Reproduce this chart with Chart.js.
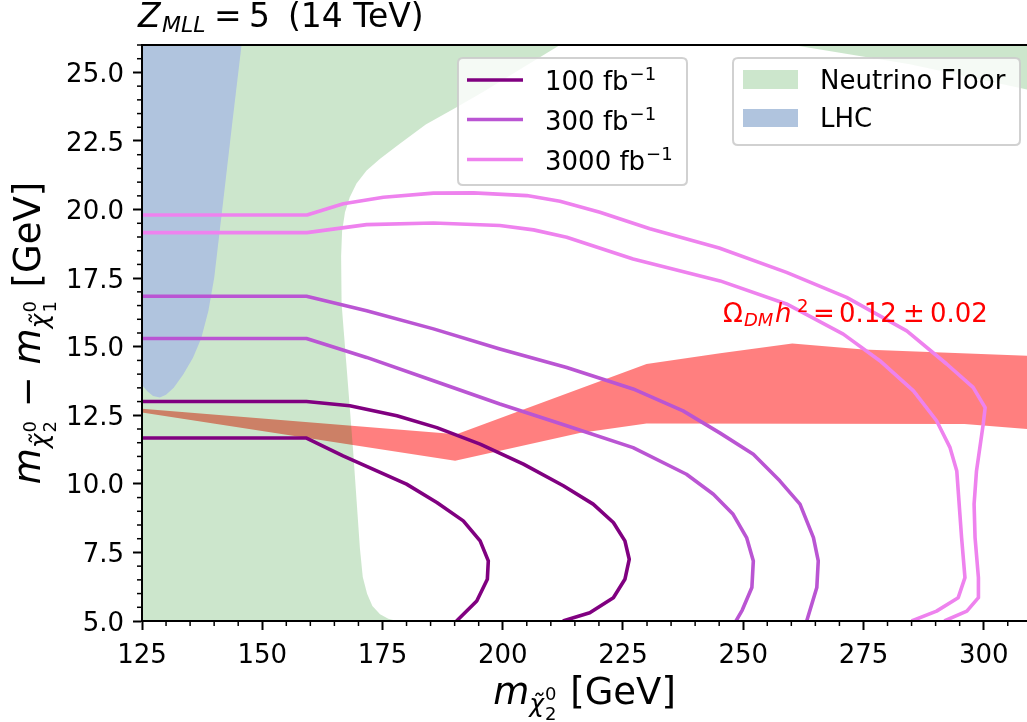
<!DOCTYPE html>
<html><head><meta charset="utf-8">
<script src="https://cdn.jsdelivr.net/npm/chart.js@4.4.1/dist/chart.umd.min.js"></script>
<style>html,body{margin:0;padding:0;background:#fff}canvas{display:block}</style>
</head><body>
<canvas id="c" width="1027" height="722"></canvas>
<script>
// ---- axis ranges and tick labels ----
const X_MIN = 125, X_MAX = 309, Y_MIN = 5, Y_MAX = 26;
const X_TICKS = [125, 150, 175, 200, 225, 250, 275, 300];
const Y_TICKS = [5.0, 7.5, 10.0, 12.5, 15.0, 17.5, 20.0, 22.5, 25.0];

// ---- Z_MLL = 5 contours: [m_chi2, delta m] ----
const lum100Low = [[125,11.67],[159.2,11.67],[166.8,11.02],[180.0,9.99],[186.3,9.32],[191.8,8.65],[195.3,7.92],[197.0,7.19],[196.8,6.52],[194.6,5.73],[190.4,5.0]];
const lum100High = [[125,13.0],[159.2,13.0],[168.2,12.85],[178.0,12.48],[186.3,12.05],[195.3,11.45],[204.3,10.72],[212.6,9.93],[218.8,9.26],[223.0,8.59],[225.4,7.92],[226.3,7.25],[225.4,6.52],[223.0,5.85],[218.1,5.3],[212.5,5.0]];
const lum300Low = [[125,15.3],[159.2,15.3],[171.7,14.61],[185.6,13.76],[199.4,12.91],[213.3,12.12],[227.1,11.32],[238.2,10.35],[243.8,9.62],[247.9,8.89],[250.7,8.04],[252.1,7.19],[251.8,6.22],[249.8,5.4],[248.5,5.0]];
const lum300High = [[125,16.84],[159.2,16.84],[171.7,16.31],[185.6,15.65],[199.4,14.92],[213.3,14.24],[227.1,13.46],[237.5,12.66],[245.2,11.85],[252.1,11.08],[257.6,10.11],[261.8,9.26],[264.6,8.04],[265.6,7.19],[265.3,6.22],[263.2,5.0]];
const lum3000Low = [[125,19.16],[159.3,19.16],[171.7,19.45],[185.6,19.51],[199.4,19.42],[206.4,19.26],[213.3,18.99],[227.1,18.2],[245.2,17.4],[259.0,16.56],[270.8,15.46],[278.4,14.49],[285.4,13.39],[290.2,12.3],[293.0,11.32],[294.4,10.47],[295.4,8.04],[296.1,6.58],[294.7,5.85],[290.2,5.36],[285.0,5.0]];
const lum3000High = [[125,19.8],[159.3,19.8],[166.85,20.21],[175.2,20.45],[185.6,20.6],[193.9,20.61],[205.0,20.51],[211.9,20.3],[220.2,19.9],[230.6,19.3],[245.0,18.6],[259.0,17.71],[271.5,16.8],[284.0,15.58],[292.3,14.37],[297.8,13.52],[300.3,12.78],[299.9,12.18],[298.5,10.47],[298.0,9.26],[298.2,8.04],[298.9,6.58],[298.9,5.85],[296.5,5.36],[291.8,5.0]];

// ---- relic density band ----
const omegaUpper = [[125,12.74],[190.4,11.81],[229.9,14.37],[245.2,14.76],[260.2,15.12],[275.0,14.9],[309,14.67]];
const omegaLower = [[125,12.6],[190.1,10.84],[216.0,11.85],[229.9,12.2],[296.0,12.18],[309,12.0]];

// ---- excluded regions (outlines) ----
const neutrinoFloorLeft = [[125,26],[211.9,26],[196,24.3],[190.4,23.73],[184,23.1],[178.6,22.4],[174.5,21.85],[171.7,21.42],[169.6,20.95],[168.2,20.45],[167.2,19.9],[166.6,19.2],[166.4,18.3],[166.5,16.56],[167.6,14.12],[168.9,11.2],[170.3,7.66],[170.9,6.6],[171.8,5.99],[172.9,5.55],[174.5,5.25],[176.2,5.08],[178.0,5.0],[125,5.0]];
const neutrinoFloorTop = [[260.3,26],[309,26],[309,24.38],[284.6,25.3]];
const lhcRegion = [[125,26],[145.7,26],[143.8,23.2],[141.9,20.33],[140.0,17.5],[138.8,16.3],[137.3,15.3],[135.6,14.6],[133.6,14.0],[131.6,13.5],[130.0,13.25],[128.7,13.15],[127.3,13.2],[126.1,13.38],[125,13.6]];

// ---- legend labels ----
const LINE_LABELS = ['100 fb', '300 fb', '3000 fb'];
const AREA_LABELS = ['Neutrino Floor', 'LHC'];

const C100 = '#800080', C300 = '#ba55d3', C3000 = '#ee82ee';
const GREEN = 'rgba(0,128,0,0.2)', BLUE = '#b0c4de', RED = 'rgba(255,0,0,0.5)';
const FONT = '"DejaVu Sans"';
const LW = 3.6;

const pts = a => a.map(p => ({x: p[0], y: p[1]}));
function lineDs(data, color) {
  return {data: pts(data), showLine: true, borderColor: color, borderWidth: LW, pointRadius: 0,
          fill: false, borderJoinStyle: 'round', order: 0, tension: 0};
}
function areaDs(data, color, order) {
  return {data: pts(data), showLine: true, borderWidth: 0, borderColor: 'rgba(0,0,0,0)',
          backgroundColor: color, pointRadius: 0, fill: 'shape', order: order, tension: 0};
}
const redBand = omegaUpper.concat(omegaLower.slice().reverse());

function textRun(ctx, pieces) {
  let w = 0;
  for (const p of pieces) {
    ctx.font = (p.it ? 'italic ' : '') + p.s + 'px ' + FONT;
    if (!p.na) w += ctx.measureText(p.t).width + (p.gap || 0);
  }
  return w;
}
function drawRun(ctx, pieces, x0, y0) {
  let x = x0;
  for (const p of pieces) {
    ctx.font = (p.it ? 'italic ' : '') + p.s + 'px ' + FONT;
    ctx.fillText(p.t, x + (p.dx || 0), y0 + (p.dy || 0));
    if (!p.na) x += ctx.measureText(p.t).width + (p.gap || 0);
  }
}
function roundBox(ctx, x, y, w, h, r) {
  ctx.beginPath();
  ctx.moveTo(x + r, y); ctx.lineTo(x + w - r, y); ctx.quadraticCurveTo(x + w, y, x + w, y + r);
  ctx.lineTo(x + w, y + h - r); ctx.quadraticCurveTo(x + w, y + h, x + w - r, y + h);
  ctx.lineTo(x + r, y + h); ctx.quadraticCurveTo(x, y + h, x, y + h - r);
  ctx.lineTo(x, y + r); ctx.quadraticCurveTo(x, y, x + r, y); ctx.closePath();
  ctx.fillStyle = 'rgba(255,255,255,0.8)'; ctx.fill();
  ctx.strokeStyle = 'rgba(204,204,204,0.9)'; ctx.lineWidth = 2; ctx.stroke();
}

const decor = {
  id: 'decor',
  afterDraw(chart) {
    const ctx = chart.ctx, a = chart.chartArea, xs = chart.scales.x, ys = chart.scales.y;
    ctx.save();
    // top spine
    ctx.strokeStyle = '#000'; ctx.lineWidth = 2;
    ctx.beginPath(); ctx.moveTo(a.left - 1, a.top); ctx.lineTo(a.right, a.top); ctx.stroke();
    // minor ticks
    ctx.lineWidth = 1.5;
    for (let v = X_MIN; v <= X_MAX; v += 5) {
      if (X_TICKS.includes(v)) continue;
      const px = xs.getPixelForValue(v);
      ctx.beginPath(); ctx.moveTo(px, a.bottom); ctx.lineTo(px, a.bottom + 5); ctx.stroke();
    }
    for (let v = Y_MIN; v <= Y_MAX + 1e-9; v += 0.5) {
      if (Y_TICKS.some(t => Math.abs(t - v) < 1e-9)) continue;
      const py = ys.getPixelForValue(v);
      ctx.beginPath(); ctx.moveTo(a.left, py); ctx.lineTo(a.left - 5, py); ctx.stroke();
    }
    // tick labels
    ctx.fillStyle = '#000'; ctx.font = '26px ' + FONT; ctx.textBaseline = 'alphabetic';
    ctx.textAlign = 'center';
    for (const v of X_TICKS) ctx.fillText(String(v), xs.getPixelForValue(v), 663);
    ctx.textAlign = 'right';
    for (const v of Y_TICKS) ctx.fillText(v.toFixed(1), a.left - 18, ys.getPixelForValue(v) + 9.5);
    ctx.textAlign = 'left';
    // legend 1
    roundBox(ctx, 458, 58, 229, 127, 5);
    const cols = [C100, C300, C3000], ly = [80, 119.5, 159.5], lb = [90, 130, 170];
    for (let i = 0; i < 3; i++) {
      ctx.strokeStyle = cols[i]; ctx.lineWidth = LW;
      ctx.beginPath(); ctx.moveTo(467, ly[i]); ctx.lineTo(523, ly[i]); ctx.stroke();
      ctx.fillStyle = '#000';
      drawRun(ctx, [{t: LINE_LABELS[i], s: 26}, {t: '\u22121', s: 18, dy: -10, dx: 1}], 545, lb[i]);
    }
    // legend 2
    roundBox(ctx, 733, 58, 287, 87, 5);
    ctx.fillStyle = GREEN; ctx.fillRect(743, 70, 55, 19);
    ctx.fillStyle = BLUE; ctx.fillRect(743, 109, 55, 18);
    ctx.fillStyle = '#000'; ctx.font = '26px ' + FONT;
    ctx.fillText(AREA_LABELS[0], 820, 89);
    ctx.fillText(AREA_LABELS[1], 820, 127);
    // title
    ctx.fillStyle = '#000';
    ctx.font = 'italic 33px ' + FONT; ctx.fillText('Z', 138, 27);
    ctx.font = 'italic 22px ' + FONT; ctx.fillText('MLL', 162, 32);
    ctx.font = '33px ' + FONT; ctx.fillText('=', 214, 27); ctx.fillText('5', 249, 27);
    ctx.fillText('(14 TeV)', 288, 27);
    // relic density annotation
    ctx.fillStyle = '#ff0000';
    ctx.font = '26px ' + FONT; ctx.fillText('\u03A9', 723, 322);
    ctx.font = 'italic 18px ' + FONT; ctx.fillText('DM', 744, 325.5);
    ctx.font = 'italic 26px ' + FONT; ctx.fillText('h', 775, 322);
    ctx.font = '18px ' + FONT; ctx.fillText('2', 797, 312);
    ctx.font = '26px ' + FONT;
    ctx.fillText('=', 813, 322); ctx.fillText('0.12', 839, 322);
    ctx.fillText('\u00B1', 903, 322); ctx.fillText('0.02', 930, 322);
    // axis labels
    ctx.fillStyle = '#000';
    const chiSub = n => [{t: '\u03C7\u0303', s: 25, it: 1, dy: 8, gap: 1}, {t: '0', s: 18, dy: -4, na: 1}, {t: n, s: 18, dy: 16, gap: 2}];
    const xl = [{t: 'm', s: 37, it: 1}].concat(chiSub('2'), [{t: ' [GeV]', s: 37}]);
    const xw = textRun(ctx, xl);
    drawRun(ctx, xl, (a.left + a.right) / 2 - xw / 2, 704);
    const yl = [{t: 'm', s: 37, it: 1}].concat(chiSub('2'), [{t: ' \u2212 ', s: 37}, {t: 'm', s: 37, it: 1}], chiSub('1'), [{t: ' [GeV]', s: 37}]);
    const yw = textRun(ctx, yl);
    ctx.translate(40, (a.top + a.bottom) / 2);
    ctx.rotate(-Math.PI / 2);
    drawRun(ctx, yl, -yw / 2, 0);
    ctx.restore();
  }
};

new Chart(document.getElementById('c'), {
  type: 'scatter',
  data: {datasets: [
    lineDs(lum100Low, C100), lineDs(lum100High, C100),
    lineDs(lum300Low, C300), lineDs(lum300High, C300),
    lineDs(lum3000Low, C3000), lineDs(lum3000High, C3000),
    areaDs(lhcRegion, BLUE, 1),
    areaDs(neutrinoFloorLeft, GREEN, 2),
    areaDs(neutrinoFloorTop, GREEN, 2),
    areaDs(redBand, RED, 3)
  ]},
  options: {
    responsive: false, devicePixelRatio: 1, animation: false,
    layout: {padding: {top: 45, right: 0, left: 0, bottom: 0}},
    plugins: {legend: {display: false}, tooltip: {enabled: false}},
    scales: {
      x: {type: 'linear', min: X_MIN, max: X_MAX,
        afterBuildTicks: s => { s.ticks = X_TICKS.map(v => ({value: v})); },
        afterFit: s => { s.height = 101; },
        ticks: {display: false},
        grid: {drawOnChartArea: false, drawTicks: true, tickLength: 9, tickWidth: 2, tickColor: '#000'},
        border: {display: true, color: '#000', width: 2, z: 1}},
      y: {type: 'linear', min: Y_MIN, max: Y_MAX,
        afterBuildTicks: s => { s.ticks = Y_TICKS.map(v => ({value: v})); },
        afterFit: s => { s.width = 142; },
        ticks: {display: false},
        grid: {drawOnChartArea: false, drawTicks: true, tickLength: 9, tickWidth: 2, tickColor: '#000'},
        border: {display: true, color: '#000', width: 2, z: 1}}
    }
  },
  plugins: [decor]
});
</script>
</body></html>
